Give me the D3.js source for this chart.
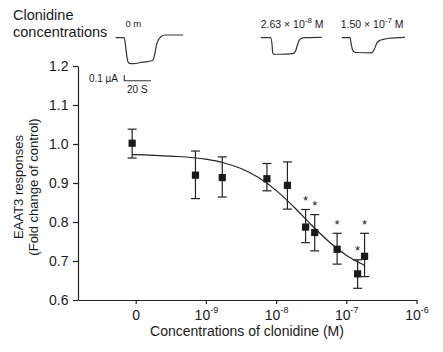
<!DOCTYPE html>
<html>
<head>
<meta charset="utf-8">
<script src="https://cdn.jsdelivr.net/npm/d3@7/dist/d3.min.js"></script>
<style>
body{margin:0;background:#fff;}
text{font-family:"Liberation Sans",Arial,sans-serif;fill:#1a1a1a;}
</style>
</head>
<body>
<div id="chart"></div>
<script>
// clonidine concentrations (M); 0 = control
var concentrations = [0, 7.1e-10, 1.71e-9, 7.4e-9, 1.45e-8, 2.63e-8, 3.55e-8, 7.4e-8, 1.45e-7, 1.82e-7];
var responses  = [1.002, 0.920, 0.914, 0.911, 0.894, 0.787, 0.773, 0.730, 0.667, 0.712];
var errUpper   = [1.038, 0.982, 0.967, 0.950, 0.954, 0.832, 0.819, 0.771, 0.703, 0.771];
var errLower   = [0.964, 0.860, 0.864, 0.880, 0.833, 0.747, 0.726, 0.692, 0.630, 0.660];
var significant = [false, false, false, false, false, true, true, true, true, true];

// fitted curve
var fitConc = [8.9e-11, 3.16e-10, 1e-9, 1.78e-9, 3.16e-9, 5.62e-9, 1e-8, 1.78e-8, 3.16e-8, 5.62e-8, 1e-7, 1.82e-7];
var fitResp = [0.973, 0.969, 0.961, 0.952, 0.937, 0.914, 0.881, 0.839, 0.793, 0.750, 0.715, 0.689];

var xTicks = [1e-10, 1e-9, 1e-8, 1e-7, 1e-6];
var xTickBase = ["0", "10", "10", "10", "10"];
var xTickExp = ["", "-9", "-8", "-7", "-6"];
var yTicks = [0.6, 0.7, 0.8, 0.9, 1.0, 1.1, 1.2];

// example current traces: time (s), current (uA)
var trace0T = [0, 6.4, 7.4, 8.2, 9.2, 10.4, 13.2, 20, 27.7, 28.6, 29.4, 30.5, 31.9, 34, 36.9, 50.6];
var trace0I = [0, 0, -0.15, -0.30, -0.42, -0.45, -0.455, -0.43, -0.40, -0.35, -0.27, -0.13, -0.04, 0.02, 0.047, 0.047];
var trace1T = [0, 7.5, 8.6, 9.0, 9.8, 15, 24, 26, 27.2, 28.5, 30, 33.2, 45.7];
var trace1I = [0, 0, -0.15, -0.27, -0.29, -0.29, -0.28, -0.24, -0.15, -0.06, -0.02, 0, 0.005];
var trace2T = [0, 6.2, 7.2, 8.2, 9.5, 11.2, 22.5, 24.5, 26.2, 28.5, 31.2, 35, 47.4];
var trace2I = [0, 0, -0.12, -0.22, -0.25, -0.26, -0.265, -0.2, -0.1, -0.05, -0.03, -0.01, 0.007];

var W = 443, H = 352;
var svg = d3.select("#chart").append("svg")
	.attr("width", W)
	.attr("height", H);

var zeroAt = 8.9e-11; // where the control (0 M) is drawn
var x = d3.scaleLog()
	.domain([Math.pow(10, -10.822), 1e-6])
	.range([78, 416.5]);
var y = d3.scaleLinear()
	.domain([0.6, 1.2])
	.range([300, 66]);
function xPos(c){ return x(c === 0 ? zeroAt : c); }

// axes
var yAxis = svg.append("g")
	.attr("transform", "translate(78,0)")
	.call(d3.axisLeft(y).tickValues(yTicks).tickSize(5).tickSizeOuter(0).tickPadding(4.5)
		.tickFormat(d3.format(".1f")));
var xAxis = svg.append("g")
	.attr("transform", "translate(0,300)")
	.call(d3.axisBottom(x).tickValues(xTicks).tickSize(4).tickSizeOuter(0).tickPadding(6)
		.tickFormat(function(d, i){ return xTickBase[i]; }));
xAxis.selectAll(".tick text").each(function(d, i){
	if(xTickExp[i]) d3.select(this).append("tspan")
		.attr("dy", "-7")
		.attr("font-size", "9px")
		.text(xTickExp[i]);
});
[xAxis, yAxis].forEach(function(g){
	g.selectAll("path,line").attr("stroke", "#222").attr("stroke-width", 1.2);
	g.selectAll("text").attr("font-size", "14px").attr("fill", "#1a1a1a")
		.attr("font-family", "'Liberation Sans',Arial,sans-serif");
});

// axis titles
svg.append("text")
	.attr("x", 247).attr("y", 336)
	.attr("text-anchor", "middle")
	.attr("font-size", "14px")
	.text("Concentrations of clonidine (M)");
var ylab = svg.append("text")
	.attr("transform", "rotate(-90)")
	.attr("text-anchor", "middle")
	.attr("font-size", "13px");
ylab.append("tspan").attr("x", -187).attr("y", 23.3).text("EAAT3 responses");
ylab.append("tspan").attr("x", -187).attr("y", 38.3).text("(Fold change of control)");

// fitted curve
var fit = fitConc.map(function(c, i){ return {c: c, r: fitResp[i]}; });
svg.append("path")
	.datum(fit)
	.attr("fill", "none")
	.attr("stroke", "#222")
	.attr("stroke-width", 1.2)
	.attr("d", d3.line()
		.x(function(d){ return xPos(d.c); })
		.y(function(d){ return y(d.r); })
		.curve(d3.curveMonotoneX));

// points with error bars
var pts = concentrations.map(function(c, i){
	return {c: c, r: responses[i], hi: errUpper[i], lo: errLower[i], sig: significant[i]};
});
var g = svg.selectAll(".pt").data(pts).enter().append("g").attr("class", "pt");
g.append("line")
	.attr("x1", function(d){ return xPos(d.c); })
	.attr("x2", function(d){ return xPos(d.c); })
	.attr("y1", function(d){ return y(d.hi); })
	.attr("y2", function(d){ return y(d.lo); })
	.attr("stroke", "#222").attr("stroke-width", 1.2);
["hi", "lo"].forEach(function(k){
	g.append("line")
		.attr("x1", function(d){ return xPos(d.c) - 4.5; })
		.attr("x2", function(d){ return xPos(d.c) + 4.5; })
		.attr("y1", function(d){ return y(d[k]); })
		.attr("y2", function(d){ return y(d[k]); })
		.attr("stroke", "#222").attr("stroke-width", 1.2);
});
g.append("rect")
	.attr("x", function(d){ return xPos(d.c) - 3.6; })
	.attr("y", function(d){ return y(d.r) - 3.6; })
	.attr("width", 7.2).attr("height", 7.2)
	.attr("fill", "#1a1a1a");
g.filter(function(d){ return d.sig; }).append("text")
	.attr("x", function(d){ return xPos(d.c); })
	.attr("y", function(d){ return y(d.hi) - 4.5; })
	.attr("text-anchor", "middle")
	.attr("font-size", "13px")
	.text("*");

// top-left label
var lab = svg.append("text").attr("font-size", "14.5px");
lab.append("tspan").attr("x", 13).attr("y", 20).text("Clonidine");
lab.append("tspan").attr("x", 13).attr("y", 36.5).text("concentrations");

// current traces
var tx = d3.scaleLinear().domain([0, 20]).range([0, 26.7]);
var ty = d3.scaleLinear().domain([0, 0.1]).range([0, -5.7]);
var traceLine = d3.line()
	.x(function(d){ return tx(d[0]); })
	.y(function(d){ return ty(d[1]); })
	.curve(d3.curveMonotoneX);
var traces = [
	{t: trace0T, i: trace0I, x0: 115.7, y0: 37.7},
	{t: trace1T, i: trace1I, x0: 260.7, y0: 37.7},
	{t: trace2T, i: trace2I, x0: 341.7, y0: 37.7}
];
traces.forEach(function(tr){
	svg.append("path")
		.datum(tr.t.map(function(t, k){ return [t, tr.i[k]]; }))
		.attr("transform", "translate(" + tr.x0 + "," + tr.y0 + ")")
		.attr("fill", "none")
		.attr("stroke", "#333")
		.attr("stroke-width", 1.2)
		.attr("d", traceLine);
});

svg.append("text").attr("x", 133.3).attr("y", 26.7)
	.attr("text-anchor", "middle").attr("font-size", "9.5px").text("0 m");
function concLabel(xp, mant, exp){
	var t = svg.append("text").attr("x", xp).attr("y", 28.3).attr("font-size", "10.5px");
	t.append("tspan").text(mant + " \u00d7 10");
	t.append("tspan").attr("dy", -5).attr("font-size", "8px").text(exp);
	t.append("tspan").attr("dy", 5).text(" M");
}
concLabel(260.7, "2.63", "-8");
concLabel(340.7, "1.50", "-7");

// scale bar
var sb = svg.append("g").attr("transform", "translate(124.3,80.7)");
sb.append("path")
	.attr("d", "M0," + ty(0.1) + "V0H" + tx(20))
	.attr("fill", "none").attr("stroke", "#333").attr("stroke-width", 1.1);
svg.append("text").attr("x", 118).attr("y", 81.7)
	.attr("text-anchor", "end").attr("font-size", "10px").text("0.1 \u00b5A");
svg.append("text").attr("x", 137.3).attr("y", 92.7)
	.attr("text-anchor", "middle").attr("font-size", "10px").text("20 S");
</script>
</body>
</html>
